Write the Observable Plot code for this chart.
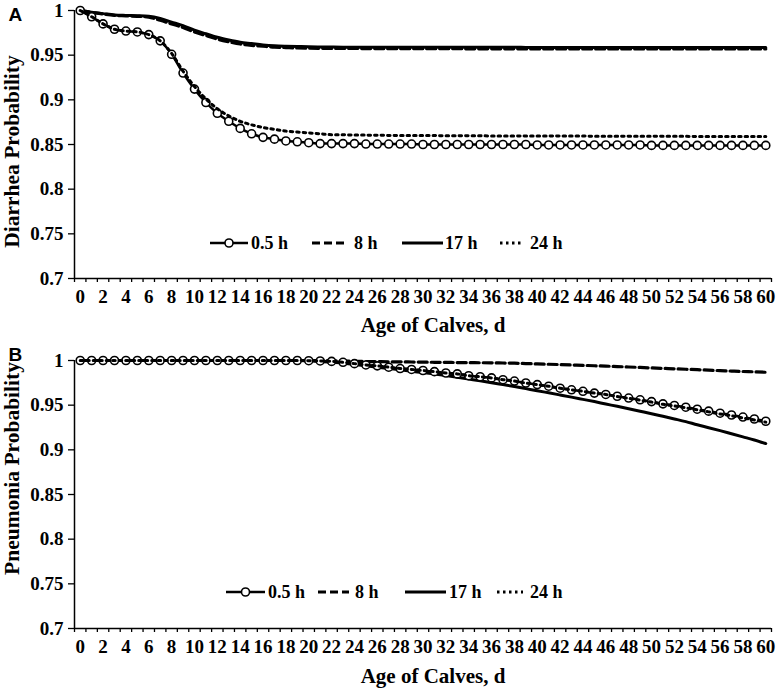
<!DOCTYPE html>
<html>
<head>
<meta charset="utf-8">
<script src="https://cdn.jsdelivr.net/npm/d3@7"></script>
<script src="https://cdn.jsdelivr.net/npm/@observablehq/plot@0.6"></script>
<style>
  body { margin: 0; background: #fff; }
  #wrap { position: relative; width: 777px; height: 688px; }
  .panel { position: absolute; left: 0; }
  .legend { position: absolute; left: 0; height: 18px; width: 777px;
            font: bold 18px "Liberation Serif", "Times New Roman", serif; color: #000; }
  .legend svg, .legend span { position: absolute; top: 0; }
  .legend span { line-height: 18px; }
</style>
</head>
<body>
<div id="wrap"></div>
<script>
// Age of calves (days) and probabilities for each colostrum timing group
const days = d3.range(0, 61);
const xLabels = d3.range(0, 61, 2);
const yTicks = [0.7, 0.75, 0.8, 0.85, 0.9, 0.95, 1];
const groups = ["0.5 h", "8 h", "17 h", "24 h"];

// Panel A: diarrhea probability
const diarrhea05 = [1.000, 0.993, 0.985, 0.979, 0.977, 0.976, 0.973, 0.966, 0.951, 0.930,
  0.912, 0.897, 0.885, 0.876, 0.868, 0.862, 0.858, 0.856, 0.854, 0.853,
  0.852, 0.851, 0.851, 0.851, 0.851, 0.8505, 0.8505, 0.8505, 0.8505, 0.8505,
  0.850, 0.850, 0.850, 0.850, 0.850, 0.850, 0.850, 0.850, 0.850, 0.850,
  0.8495, 0.8495, 0.8495, 0.8495, 0.8495, 0.8495, 0.8495, 0.8495, 0.8495, 0.8495,
  0.849, 0.849, 0.849, 0.849, 0.849, 0.849, 0.849, 0.849, 0.849, 0.849, 0.849];
const diarrhea8 = [1.000, 0.998, 0.996, 0.9945, 0.994, 0.9935, 0.9925, 0.989, 0.985, 0.981,
  0.976, 0.972, 0.968, 0.965, 0.9625, 0.961, 0.960, 0.959, 0.9585, 0.958,
  0.9578, 0.9577, 0.9576, 0.9575, 0.9575, 0.9574, 0.9574, 0.9573, 0.9573, 0.9573,
  0.9572, 0.9572, 0.9572, 0.9572, 0.9571, 0.9571, 0.9571, 0.9571, 0.9571, 0.957,
  0.957, 0.957, 0.957, 0.957, 0.957, 0.957, 0.957, 0.957, 0.957, 0.957,
  0.957, 0.957, 0.957, 0.957, 0.957, 0.957, 0.957, 0.957, 0.957, 0.957, 0.957];
const diarrhea17 = [1.000, 0.998, 0.9965, 0.995, 0.9945, 0.9942, 0.9935, 0.991, 0.987, 0.983,
  0.978, 0.974, 0.970, 0.967, 0.9645, 0.963, 0.9615, 0.9605, 0.960, 0.9597,
  0.9594, 0.9592, 0.9591, 0.959, 0.959, 0.959, 0.959, 0.959, 0.959, 0.959,
  0.9589, 0.9589, 0.9589, 0.9589, 0.9588, 0.9588, 0.9588, 0.9588, 0.9588, 0.9587,
  0.9587, 0.9587, 0.9587, 0.9587, 0.9586, 0.9586, 0.9586, 0.9586, 0.9586, 0.9586,
  0.9585, 0.9585, 0.9585, 0.9585, 0.9585, 0.9585, 0.9585, 0.9585, 0.9585, 0.9585, 0.9585];
const diarrhea24 = [1.000, 0.993, 0.985, 0.979, 0.977, 0.976, 0.973, 0.966, 0.952, 0.932,
  0.915, 0.901, 0.890, 0.882, 0.876, 0.872, 0.869, 0.867, 0.865, 0.864,
  0.863, 0.862, 0.861, 0.861, 0.8605, 0.8605, 0.8603, 0.8602, 0.860, 0.860,
  0.860, 0.860, 0.8598, 0.8598, 0.8597, 0.8597, 0.8596, 0.8596, 0.8596, 0.8595,
  0.8595, 0.8595, 0.8594, 0.8594, 0.8594, 0.8593, 0.8593, 0.8593, 0.8592, 0.8592,
  0.8592, 0.8591, 0.8591, 0.8591, 0.859, 0.859, 0.859, 0.859, 0.859, 0.859, 0.859];

// Panel B: pneumonia probability
const pneumonia05 = [1, 1, 1, 1, 1, 1, 1, 1, 1, 1,
  1, 1, 1, 1, 1, 1, 1, 1, 1, 1,
  0.9998, 0.9995, 0.999, 0.998, 0.9965, 0.995, 0.994, 0.9925, 0.991, 0.990,
  0.9888, 0.9875, 0.986, 0.985, 0.983, 0.9818, 0.9805, 0.9785, 0.977, 0.9748,
  0.973, 0.9712, 0.969, 0.9672, 0.9655, 0.9635, 0.962, 0.960, 0.958, 0.956,
  0.954, 0.9515, 0.9497, 0.9477, 0.9455, 0.9433, 0.941, 0.939, 0.9367, 0.9345, 0.932];
const pneumonia8 = [1, 1, 1, 1, 1, 1, 1, 1, 1, 1,
  1, 1, 1, 1, 1, 1, 1, 1, 1, 1,
  1, 1, 0.9998, 0.9995, 0.9991, 0.9989, 0.9988, 0.9986, 0.9985, 0.9983,
  0.9982, 0.998, 0.9979, 0.9977, 0.9976, 0.9975, 0.9974, 0.9972, 0.997, 0.9966,
  0.9962, 0.9958, 0.9954, 0.995, 0.9946, 0.9941, 0.9937, 0.9932, 0.9927, 0.9922,
  0.9917, 0.9912, 0.9907, 0.9902, 0.9897, 0.9892, 0.9887, 0.9882, 0.9877, 0.9873, 0.9868];
const pneumonia17 = [1, 1, 1, 1, 1, 1, 1, 1, 1, 1,
  1, 1, 1, 1, 1, 1, 1, 1, 1, 1,
  0.9995, 0.999, 0.998, 0.997, 0.9955, 0.994, 0.9925, 0.991, 0.9895, 0.988,
  0.9865, 0.985, 0.9832, 0.9813, 0.9793, 0.9773, 0.9752, 0.973, 0.9708, 0.9685,
  0.9662, 0.9638, 0.9614, 0.959, 0.9565, 0.954, 0.9513, 0.9487, 0.946, 0.9432,
  0.9404, 0.9375, 0.9346, 0.9316, 0.928, 0.9248, 0.9215, 0.918, 0.9145, 0.911, 0.907];
const pneumonia24 = [1, 1, 1, 1, 1, 1, 1, 1, 1, 1,
  1, 1, 1, 1, 1, 1, 1, 1, 1, 1,
  0.9998, 0.9995, 0.999, 0.998, 0.9965, 0.995, 0.994, 0.9925, 0.991, 0.990,
  0.9888, 0.9875, 0.986, 0.985, 0.983, 0.9818, 0.9805, 0.9785, 0.977, 0.9748,
  0.973, 0.9712, 0.969, 0.9672, 0.9655, 0.9635, 0.962, 0.9597, 0.9577, 0.9556,
  0.9535, 0.951, 0.9491, 0.947, 0.9448, 0.9425, 0.9402, 0.9381, 0.9357, 0.9335, 0.931];

const serif = '"Liberation Serif", "Times New Roman", serif';
const W = 777, H = 344;

function panel({letter, title, s05, s8, s17, s24, marginTop, marginBottom, titleDy, letterDy, xTitleDy}) {
  const rows = days.map((d, i) => ({day: d, v05: s05[i], v8: s8[i], v17: s17[i], v24: s24[i]}));
  return Plot.plot({
    width: W, height: H,
    marginLeft: 74, marginRight: 6, marginTop, marginBottom,
    style: {fontFamily: serif, fontSize: "19px", fontWeight: "bold", color: "#000", background: "#fff"},
    x: {domain: [-0.5, 60.5], axis: null},
    y: {domain: [0.7, 1], axis: null},
    marks: [
      Plot.ruleY([0.7], {stroke: "#000", strokeWidth: 1.5}),
      Plot.ruleX([-0.5], {stroke: "#000", strokeWidth: 1.5}),
      Plot.axisX({ticks: d3.range(-0.5, 61, 1), tickFormat: () => "", tickSize: 4, strokeWidth: 1.3, label: null}),
      Plot.axisX({ticks: xLabels, tickFormat: d => String(d), tickSize: 0, tickPadding: 11, label: null}),
      Plot.axisY({ticks: yTicks, tickFormat: d => String(+d.toFixed(2)), tickSize: 6, tickPadding: 5, strokeWidth: 1.3, label: null}),
      Plot.text(["Age of Calves, d"], {frameAnchor: "bottom", lineAnchor: "middle", dx: 10, dy: xTitleDy, fontSize: 21, fontWeight: "bold"}),
      Plot.text([title], {frameAnchor: "left", textAnchor: "middle", lineAnchor: "middle", rotate: -90, dx: -62, dy: titleDy,
        fontSize: 21.5, fontWeight: "bold"}),
      Plot.text([letter], {frameAnchor: "top-left", textAnchor: "start", lineAnchor: "middle", dx: -66, dy: letterDy, fontSize: 19,
        fontWeight: "bold", fontFamily: '"Liberation Sans", Arial, sans-serif'}),
      // 8 h (dashed) and 17 h (solid)
      Plot.line(rows, {x: "day", y: "v8", curve: "monotone-x", stroke: "#000", strokeWidth: 3.2, strokeDasharray: "9,4"}),
      Plot.line(rows, {x: "day", y: "v17", curve: "monotone-x", stroke: "#000", strokeWidth: 3}),
      // 0.5 h: line with open circles
      Plot.line(rows, {x: "day", y: "v05", curve: "monotone-x", stroke: "#000", strokeWidth: 2.5}),
      Plot.dot(rows, {x: "day", y: "v05", r: 4, fill: "#fff", stroke: "#000", strokeWidth: 1.6}),
      // 24 h: dotted
      Plot.line(rows, {x: "day", y: "v24", curve: "monotone-x", stroke: "#000", strokeWidth: 3, strokeDasharray: "2.5,4"})
    ]
  });
}

function legend(top, items) {
  const div = document.createElement("div");
  div.className = "legend";
  div.style.top = top + "px";
  const styles = [
    {dash: null, w: 2.5, circle: true},
    {dash: "8,4", w: 3.2},
    {dash: null, w: 3},
    {dash: "2.5,3.5", w: 3}
  ];
  items.forEach((it, i) => {
    const st = styles[i];
    const svg = d3.create("svg").attr("width", it.w).attr("height", 18)
      .style("left", it.x + "px");
    svg.append("line").attr("x1", 0).attr("x2", it.w).attr("y1", 9).attr("y2", 9)
      .attr("stroke", "#000").attr("stroke-width", st.w)
      .attr("stroke-dasharray", st.dash);
    if (st.circle) svg.append("circle").attr("cx", it.w / 2).attr("cy", 9).attr("r", 4)
      .attr("fill", "#fff").attr("stroke", "#000").attr("stroke-width", 1.6);
    div.appendChild(svg.node());
    const sp = document.createElement("span");
    sp.textContent = groups[i];
    sp.style.left = it.tx + "px";
    div.appendChild(sp);
  });
  return div;
}

const wrap = document.getElementById("wrap");

const a = panel({letter: "A", title: "Diarrhea Probability", s05: diarrhea05, s8: diarrhea8, s17: diarrhea17, s24: diarrhea24,
  marginTop: 10, marginBottom: 66, titleDy: 7, letterDy: 4, xTitleDy: 47});
a.classList.add("panel"); a.style.top = "0px";
wrap.appendChild(a);

const b = panel({letter: "B", title: "Pneumonia Probability", s05: pneumonia05, s8: pneumonia8, s17: pneumonia17, s24: pneumonia24,
  marginTop: 16, marginBottom: 60, titleDy: -26, letterDy: -6, xTitleDy: 48});
b.classList.add("panel"); b.style.top = H + "px";
wrap.appendChild(b);

wrap.appendChild(legend(234, [
  {x: 210, w: 38, tx: 251}, {x: 312, w: 34, tx: 354}, {x: 402, w: 41, tx: 445}, {x: 500, w: 23, tx: 530}
]));
wrap.appendChild(legend(583, [
  {x: 226, w: 39, tx: 268}, {x: 318, w: 31, tx: 355}, {x: 405, w: 41, tx: 449}, {x: 497, w: 26, tx: 530}
]));
</script>
</body>
</html>
